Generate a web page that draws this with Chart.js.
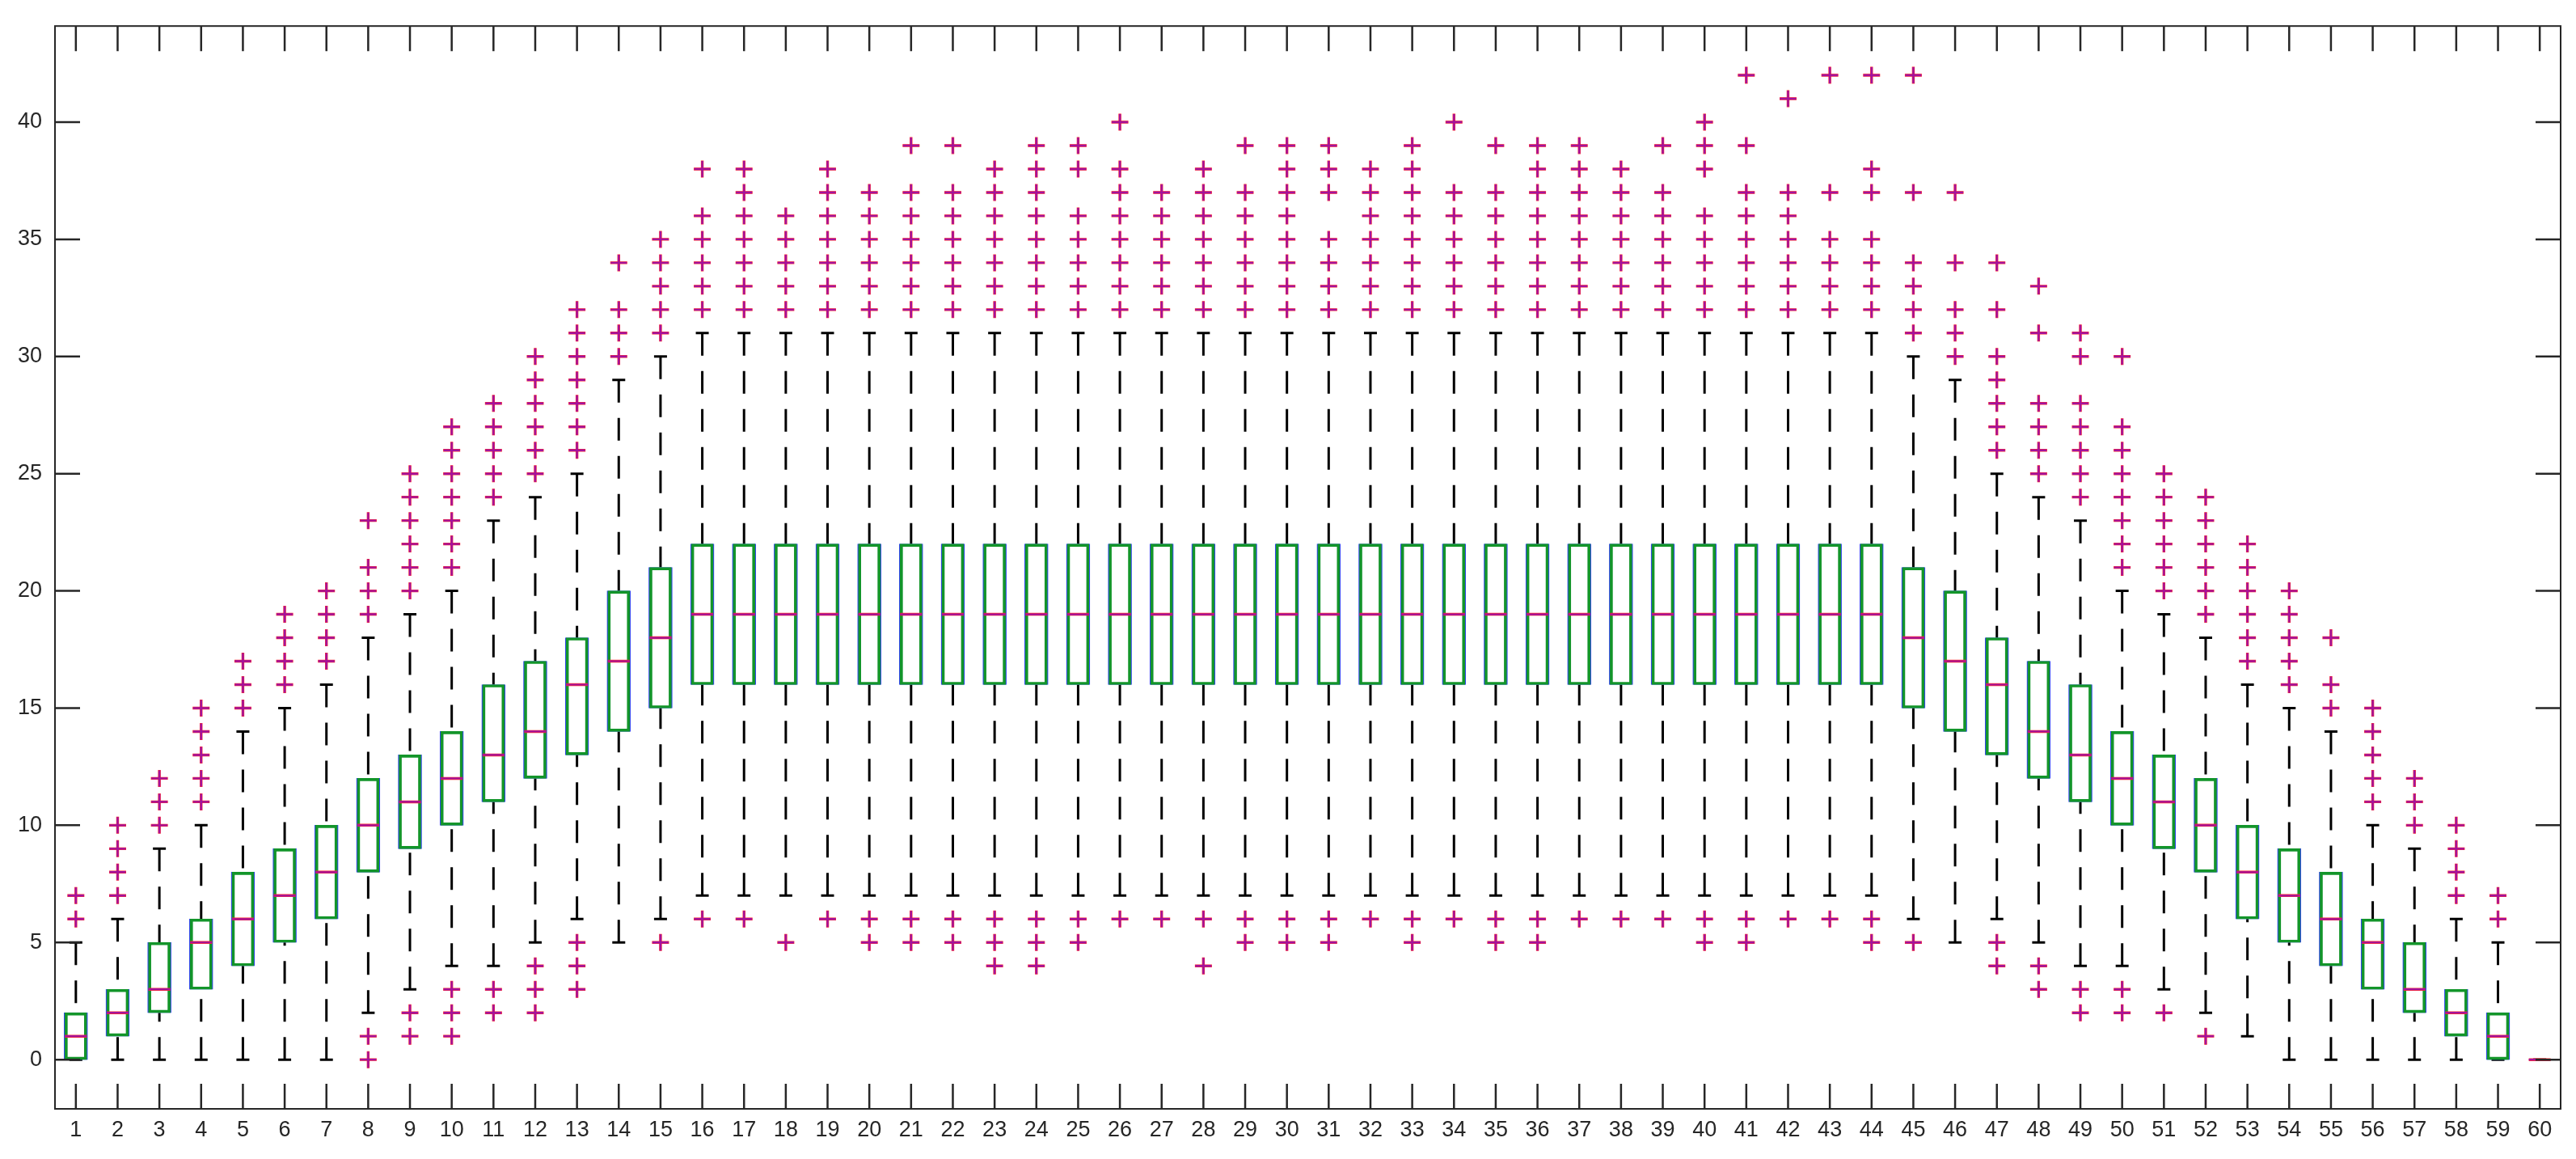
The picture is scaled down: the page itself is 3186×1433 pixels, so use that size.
<!DOCTYPE html>
<html>
<head>
<meta charset="utf-8">
<script src="https://cdn.jsdelivr.net/npm/chart.js@4/dist/chart.umd.min.js"></script>
<style>
  html, body { margin: 0; padding: 0; background: #fff; }
  #wrap { width: 3186px; height: 1433px; }
</style>
</head>
<body>
<div id="wrap"><canvas id="boxes" width="3186" height="1433"></canvas></div>
<script>
'use strict';

// one box per group
const groups = [1, 2, 3, 4, 5, 6, 7, 8, 9, 10, 11, 12, 13, 14, 15, 16, 17, 18, 19, 20,
  21, 22, 23, 24, 25, 26, 27, 28, 29, 30, 31, 32, 33, 34, 35, 36, 37, 38, 39, 40,
  41, 42, 43, 44, 45, 46, 47, 48, 49, 50, 51, 52, 53, 54, 55, 56, 57, 58, 59, 60];

const lowerQuartile = [0, 1, 2, 3, 4, 5, 6, 8, 9, 10, 11, 12, 13, 14, 15, 16, 16, 16, 16, 16,
  16, 16, 16, 16, 16, 16, 16, 16, 16, 16, 16, 16, 16, 16, 16, 16, 16, 16, 16, 16,
  16, 16, 16, 16, 15, 14, 13, 12, 11, 10, 9, 8, 6, 5, 4, 3, 2, 1, 0, 0];

const medians = [1, 2, 3, 5, 6, 7, 8, 10, 11, 12, 13, 14, 16, 17, 18, 19, 19, 19, 19, 19,
  19, 19, 19, 19, 19, 19, 19, 19, 19, 19, 19, 19, 19, 19, 19, 19, 19, 19, 19, 19,
  19, 19, 19, 19, 18, 17, 16, 14, 13, 12, 11, 10, 8, 7, 6, 5, 3, 2, 1, 0];

const upperQuartile = [2, 3, 5, 6, 8, 9, 10, 12, 13, 14, 16, 17, 18, 20, 21, 22, 22, 22, 22, 22,
  22, 22, 22, 22, 22, 22, 22, 22, 22, 22, 22, 22, 22, 22, 22, 22, 22, 22, 22, 22,
  22, 22, 22, 22, 21, 20, 18, 17, 16, 14, 13, 12, 10, 9, 8, 6, 5, 3, 2, 0];

const whiskerLow = [0, 0, 0, 0, 0, 0, 0, 2, 3, 4, 4, 5, 6, 5, 6, 7, 7, 7, 7, 7,
  7, 7, 7, 7, 7, 7, 7, 7, 7, 7, 7, 7, 7, 7, 7, 7, 7, 7, 7, 7,
  7, 7, 7, 7, 6, 5, 6, 5, 4, 4, 3, 2, 1, 0, 0, 0, 0, 0, 0, 0];

const whiskerHigh = [5, 6, 9, 10, 14, 15, 16, 18, 19, 20, 23, 24, 25, 29, 30, 31, 31, 31, 31, 31,
  31, 31, 31, 31, 31, 31, 31, 31, 31, 31, 31, 31, 31, 31, 31, 31, 31, 31, 31, 31,
  31, 31, 31, 31, 30, 29, 25, 24, 23, 20, 19, 18, 16, 15, 14, 10, 9, 6, 5, 0];

const outliers = [
  [6, 7], [7, 8, 9, 10], [10, 11, 12], [11, 12, 13, 14, 15], [15, 16, 17],
  [16, 17, 18, 19], [17, 18, 19, 20], [0, 1, 19, 20, 21, 23], [1, 2, 20, 21, 22, 23, 24, 25],
  [1, 2, 3, 21, 22, 23, 24, 25, 26, 27],
  [2, 3, 24, 25, 26, 27, 28], [2, 3, 4, 25, 26, 27, 28, 29, 30],
  [3, 4, 5, 26, 27, 28, 29, 30, 31, 32], [30, 31, 32, 34], [5, 31, 32, 33, 34, 35],
  [6, 32, 33, 34, 35, 36, 38], [6, 32, 33, 34, 35, 36, 37, 38], [5, 32, 33, 34, 35, 36],
  [6, 32, 33, 34, 35, 36, 37, 38], [5, 6, 32, 33, 34, 35, 36, 37],
  [5, 6, 32, 33, 34, 35, 36, 37, 39], [5, 6, 32, 33, 34, 35, 36, 37, 39],
  [4, 5, 6, 32, 33, 34, 35, 36, 37, 38], [4, 5, 6, 32, 33, 34, 35, 36, 37, 38, 39],
  [5, 6, 32, 33, 34, 35, 36, 38, 39], [6, 32, 33, 34, 35, 36, 37, 38, 40],
  [6, 32, 33, 34, 35, 36, 37], [4, 6, 32, 33, 34, 35, 36, 37, 38],
  [5, 6, 32, 33, 34, 35, 36, 37, 39], [5, 6, 32, 33, 34, 35, 36, 37, 38, 39],
  [5, 6, 32, 33, 34, 35, 37, 38, 39], [6, 32, 33, 34, 35, 36, 37, 38],
  [5, 6, 32, 33, 34, 35, 36, 37, 38, 39], [6, 32, 33, 34, 35, 36, 37, 40],
  [5, 6, 32, 33, 34, 35, 36, 37, 39], [5, 6, 32, 33, 34, 35, 36, 37, 38, 39],
  [6, 32, 33, 34, 35, 36, 37, 38, 39], [6, 32, 33, 34, 35, 36, 37, 38],
  [6, 32, 33, 34, 35, 36, 37, 39], [5, 6, 32, 33, 34, 35, 36, 38, 39, 40],
  [5, 6, 32, 33, 34, 35, 36, 37, 39, 42], [6, 32, 33, 34, 35, 36, 37, 41],
  [6, 32, 33, 34, 35, 37, 42], [5, 6, 32, 33, 34, 35, 37, 38, 42],
  [5, 31, 32, 33, 34, 37, 42], [30, 31, 32, 34, 37],
  [4, 5, 26, 27, 28, 29, 30, 32, 34], [3, 4, 25, 26, 27, 28, 31, 33],
  [2, 3, 24, 25, 26, 27, 28, 30, 31], [2, 3, 21, 22, 23, 24, 25, 26, 27, 30],
  [2, 20, 21, 22, 23, 24, 25], [1, 19, 20, 21, 22, 23, 24], [17, 18, 19, 20, 21, 22],
  [16, 17, 18, 19, 20], [15, 16, 18], [11, 12, 13, 14, 15], [10, 11, 12],
  [7, 8, 9, 10], [6, 7], []
];

const yTicks = [0, 5, 10, 15, 20, 25, 30, 35, 40];

const AXIS = '#262626';
const GREEN = '#13952a';
const BLUE = '#3346ee';
const RED = '#ff2a2a';
const MAGENTA = '#a3129c';
const FONT = { family: '"Liberation Sans", Arial, Helvetica, sans-serif', size: 27 };

// build the point lists from the arrays above
const boxData = groups.map((g, i) => ({ x: g, y: [lowerQuartile[i], upperQuartile[i]] }));
const medianData = groups.map((g, i) => ({ x: g, y: medians[i] }));
const capData = [];
const whiskerData = [];
const outlierData = [];
groups.forEach((g, i) => {
  capData.push({ x: g, y: whiskerLow[i] }, { x: g, y: whiskerHigh[i] });
  // each whisker starts at its cap so the dash pattern begins there
  whiskerData.push(
    { x: g, y: whiskerHigh[i] }, { x: g, y: upperQuartile[i] }, { x: g, y: null },
    { x: g, y: whiskerLow[i] }, { x: g, y: lowerQuartile[i] }, { x: g, y: null });
  outliers[i].forEach(v => outlierData.push({ x: g, y: v }));
});

// MATLAB-style frame with inward ticks on all four sides
const frameTicks = {
  id: 'frameTicks',
  afterDatasetsDraw(chart) {
    const { ctx, chartArea: a, scales: { x, y } } = chart;
    const len = 31;
    ctx.save();
    ctx.strokeStyle = AXIS;
    ctx.lineWidth = 2.5;
    ctx.beginPath();
    x.ticks.forEach(t => {
      const px = x.getPixelForValue(t.value);
      ctx.moveTo(px, a.bottom); ctx.lineTo(px, a.bottom - len);
      ctx.moveTo(px, a.top); ctx.lineTo(px, a.top + len);
    });
    y.ticks.forEach(t => {
      const py = y.getPixelForValue(t.value);
      ctx.moveTo(a.left, py); ctx.lineTo(a.left + len, py);
      ctx.moveTo(a.right, py); ctx.lineTo(a.right - len, py);
    });
    ctx.stroke();
    ctx.lineWidth = 2;
    ctx.strokeRect(a.left, a.top, a.right - a.left, a.bottom - a.top);
    ctx.restore();
  }
};

new Chart(document.getElementById('boxes').getContext('2d'), {
  type: 'scatter',
  data: {
    datasets: [
      {
        type: 'line', data: whiskerData, order: 7,
        borderColor: '#000', borderWidth: 3, borderDash: [28, 19],
        pointRadius: 0, spanGaps: false, fill: false, tension: 0
      },
      {
        data: capData, order: 6, pointStyle: 'line', pointRadius: 8,
        borderColor: '#000', pointBorderColor: '#000', pointBorderWidth: 3, borderWidth: 3
      },
      {
        type: 'bar', data: boxData, order: 5, grouped: false, barThickness: 29,
        backgroundColor: 'rgba(0,0,0,0)', borderColor: BLUE, borderWidth: 1.5, borderSkipped: false
      },
      {
        type: 'bar', data: boxData, order: 4, grouped: false, barThickness: 27,
        backgroundColor: 'rgba(0,0,0,0)', borderColor: GREEN, borderWidth: 3, borderSkipped: false
      },
      {
        data: medianData, order: 3, pointStyle: 'line', pointRadius: 13.5,
        borderColor: RED, pointBorderColor: RED, pointBorderWidth: 3.5, borderWidth: 3.5
      },
      {
        data: medianData, order: 2, pointStyle: 'line', pointRadius: 13.5,
        borderColor: MAGENTA, pointBorderColor: MAGENTA, pointBorderWidth: 2.2, borderWidth: 2.2
      },
      {
        data: outlierData, order: 1, pointStyle: 'cross', pointRadius: 10.5,
        borderColor: RED, pointBorderColor: RED, pointBorderWidth: 3.4, borderWidth: 3.4
      },
      {
        data: outlierData, order: 0, pointStyle: 'cross', pointRadius: 10,
        borderColor: MAGENTA, pointBorderColor: MAGENTA, pointBorderWidth: 2.4, borderWidth: 2.4
      }
    ]
  },
  options: {
    responsive: false,
    devicePixelRatio: 1,
    animation: false,
    events: [],
    layout: { padding: { top: 27, right: 19, left: 0, bottom: 0 } },
    plugins: { legend: { display: false }, tooltip: { enabled: false } },
    scales: {
      x: {
        type: 'linear', min: 0.5, max: 60.5, offset: false,
        grid: { display: false, drawTicks: false },
        border: { display: false },
        ticks: { autoSkip: false, maxRotation: 0, color: AXIS, font: FONT, padding: 10 },
        // one tick per group
        afterBuildTicks: scale => { scale.ticks = groups.map(g => ({ value: g })); },
        afterFit: scale => { scale.height = 62; }
      },
      y: {
        type: 'linear', min: -2.1, max: 44.1,
        grid: { display: false, drawTicks: false },
        border: { display: false },
        ticks: { color: AXIS, font: FONT, padding: 16 },
        afterBuildTicks: scale => { scale.ticks = yTicks.map(v => ({ value: v })); },
        afterFit: scale => { scale.width = 68; }
      }
    }
  },
  plugins: [frameTicks]
});
</script>
</body>
</html>
